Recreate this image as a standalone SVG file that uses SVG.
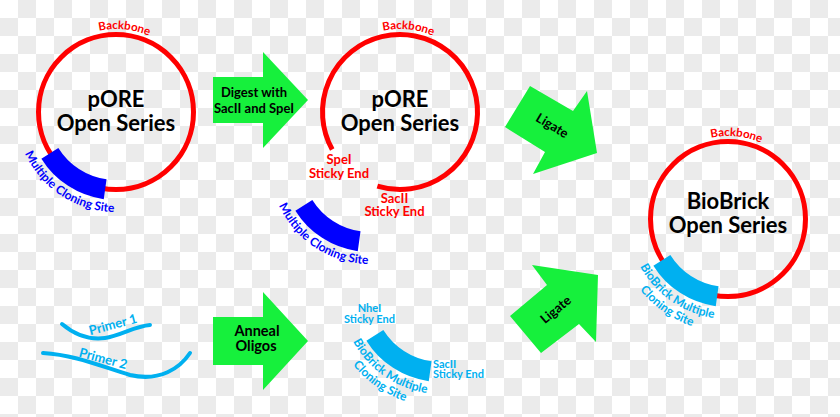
<svg xmlns="http://www.w3.org/2000/svg" width="840" height="417" viewBox="0 0 840 417">
<style>
.t{font-family:Lato,"Liberation Sans",sans-serif;font-weight:bold}
.title{font-size:22px;fill:#000;text-anchor:middle}
.red{fill:#ff0000}
.blue{fill:#0000ff}
.lb{fill:#00b0f0}
.lbl{font-size:13px}
.bb{font-size:11.5px}
.small{font-size:12px}
.arr{fill:#16f03c}
.atext{font-size:13px;fill:#000;text-anchor:middle}
.ring{fill:none;stroke:#ff0000;stroke-width:5}
.primer{fill:none;stroke:#00b0f0;stroke-width:4;stroke-linecap:round}
</style>
<defs>
<pattern id="chk" width="36" height="36" patternUnits="userSpaceOnUse">
<rect width="36" height="36" fill="#ffffff"/>
<rect x="18" y="0" width="18" height="18" fill="#ebebeb"/>
<rect x="0" y="18" width="18" height="18" fill="#ebebeb"/>
</pattern>
<path id="mcs" d="M-74.62,46.63 A88,88 0 0 0 -12.25,87.15 L-9.47,67.34 A68,68 0 0 1 -57.66,36.03 Z"/>
<path id="bbArc" d="M-83,0 A83,83 0 0 1 83,0"/>
<path id="mcsArc" d="M-100,0 A100,100 0 0 0 100,0"/>
<path id="mcsArc2" d="M-113,0 A113,113 0 0 0 113,0"/>
</defs>
<rect width="840" height="417" fill="url(#chk)"/>

<g id="connectors">
<g id="arrow-digest">
<polygon class="arr" points="213,77 263,77 263,52 308,100 263,148 263,123 213,123"/>
<text class="t atext" x="254" y="97">Digest with</text>
<text class="t atext" x="254" y="112.5">SacII and SpeI</text>
</g>
<g id="arrow-anneal">
<polygon class="arr" points="213,317 263,317 263,292 308,341 263,390 263,365 213,365"/>
<text class="t atext" x="257" y="336" style="font-size:14.5px">Anneal</text>
<text class="t atext" x="256" y="351" style="font-size:14.5px">Oligos</text>
</g>
<g id="arrow-ligate-top">
<polygon class="arr" points="505,127 530,86 573,111 587,91 597,153 533,174 545,152"/>
<text class="t atext" transform="translate(552,126) rotate(31)" y="4">Ligate</text>
</g>
<g id="arrow-ligate-bottom">
<polygon class="arr" points="510,316 547,285 532,265 598,275 596,342 579,324 541,353"/>
<text class="t atext" transform="translate(556,310) rotate(-40)" y="4">Ligate</text>
</g>
</g>

<g id="plasmid-pore" transform="translate(116,112)">
<circle class="ring" r="77.5"/>
<use href="#mcs" fill="#0000ff"/>
<text class="t bb red"><textPath href="#bbArc" startOffset="53.2%" text-anchor="middle">Backbone</textPath></text>
<text class="t small blue"><textPath href="#mcsArc" startOffset="31.5%" text-anchor="middle">Multiple Cloning Site</textPath></text>
<text class="t title" x="0" y="-5">pORE</text>
<text class="t title" x="0" y="19">Open Series</text>
</g>

<g id="plasmid-pore-cut" transform="translate(400,112)">
<path class="ring" d="M-67.78,37.57 A77.5,77.5 0 1 1 -22.66,74.11"/>
<text class="t bb red"><textPath href="#bbArc" startOffset="53.2%" text-anchor="middle">Backbone</textPath></text>
<text class="t title" x="0" y="-5">pORE</text>
<text class="t title" x="0" y="19">Open Series</text>
</g>
<g id="label-spei" class="t lbl red" text-anchor="middle">
<text x="339" y="164">SpeI</text>
<text x="339" y="177.5">Sticky End</text>
</g>
<g id="label-sacii" class="t lbl red" text-anchor="middle">
<text x="394.5" y="202.5">SacII</text>
<text x="394.5" y="216">Sticky End</text>
</g>

<g id="mcs-cut" transform="translate(370,164)">
<use href="#mcs" fill="#0000ff"/>
<text class="t small blue"><textPath href="#mcsArc" startOffset="31.5%" text-anchor="middle">Multiple Cloning Site</textPath></text>
</g>

<g id="primer-1">
<path class="primer" d="M62,324 C75,335 90,340 105,338 C120,336 135,326 150,325"/>
<text class="t lbl lb" text-anchor="middle" transform="translate(113,325) rotate(-15)" y="4">Primer 1</text>
</g>
<g id="primer-2">
<path class="primer" d="M43,353 C75,355 100,366 130,375 C160,382 180,368 190,353"/>
<text class="t lbl lb" text-anchor="middle" transform="translate(103,359) rotate(15)" y="4">Primer 2</text>
</g>

<g id="biobrick-mcs-cut" transform="translate(441,294)">
<use href="#mcs" fill="#00b0f0"/>
<text class="t small lb"><textPath href="#mcsArc" startOffset="30.6%" text-anchor="middle">BioBrick Multiple</textPath></text>
<text class="t small lb"><textPath href="#mcsArc2" startOffset="30.6%" text-anchor="middle">Cloning Site</textPath></text>
</g>
<g id="label-nhei" class="t lb" style="font-size:11px" text-anchor="middle">
<text x="369.5" y="311.5">NheI</text>
<text x="369.5" y="322.5">Sticky End</text>
</g>
<g id="label-sacii-bb" class="t lb" style="font-size:11px">
<text x="433" y="367.5">SacII</text>
<text x="433" y="378">Sticky End</text>
</g>

<g id="plasmid-biobrick" transform="translate(728,219)">
<circle class="ring" r="77.5"/>
<use href="#mcs" fill="#00b0f0"/>
<text class="t bb red"><textPath href="#bbArc" startOffset="53.2%" text-anchor="middle">Backbone</textPath></text>
<text class="t small lb"><textPath href="#mcsArc" startOffset="30.6%" text-anchor="middle">BioBrick Multiple</textPath></text>
<text class="t small lb"><textPath href="#mcsArc2" startOffset="30.6%" text-anchor="middle">Cloning Site</textPath></text>
<text class="t title" x="0" y="-10">BioBrick</text>
<text class="t title" x="0" y="14">Open Series</text>
</g>
</svg>
